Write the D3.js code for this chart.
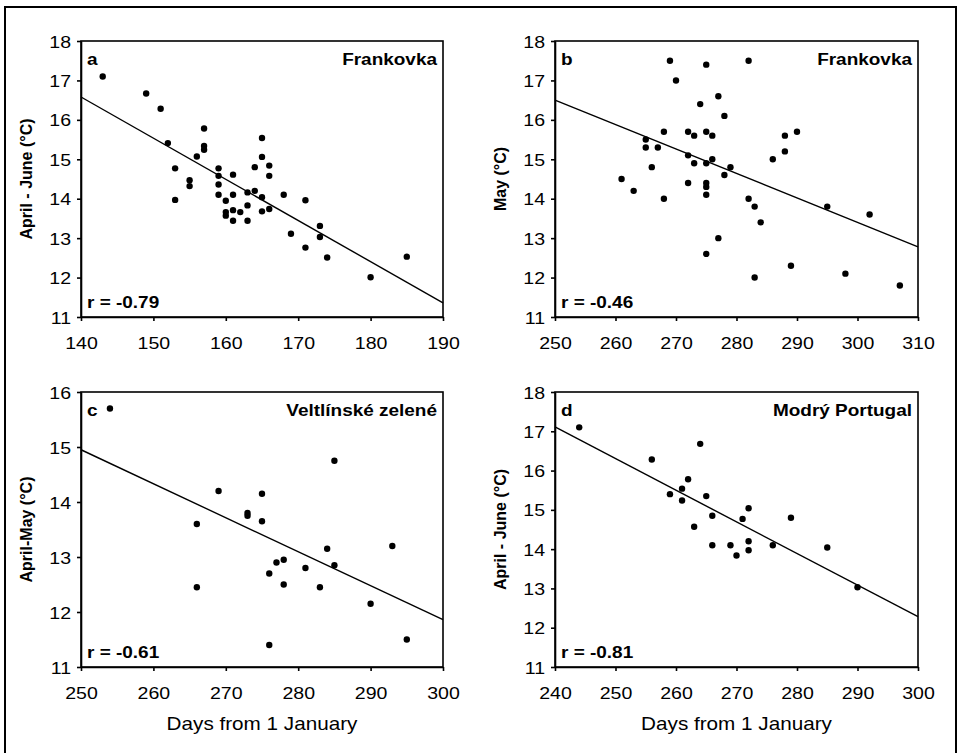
<!DOCTYPE html>
<html>
<head>
<meta charset="utf-8">
<script src="https://cdn.jsdelivr.net/npm/d3@7"></script>
<style>
  body { margin: 0; background: #fff; }
  svg { display: block; font-family: Arial, 'Liberation Sans', sans-serif; }
  .axis path, .axis line { stroke: #000; stroke-width: 1.6; }
  .axis text { fill: #000; }
</style>
</head>
<body>
<div id="chart"></div>
<script>
// panel a: Frankovka, April - June
const daysA = [143, 149, 151, 152, 153, 153, 155, 155, 156, 157, 157, 157, 159, 159, 159, 159,
  160, 160, 160, 161, 161, 161, 161, 162, 163, 163, 163, 164, 164, 165, 165, 165, 165,
  166, 166, 166, 168, 169, 171, 171, 173, 173, 174, 180, 185]
const tempA = [17.1, 16.67, 16.28, 15.41, 14.77, 13.97, 14.47, 14.32, 15.07, 15.78, 15.34, 15.24,
  14.77, 14.58, 14.36, 14.1, 13.95, 13.66, 13.57, 14.61, 14.1, 13.71, 13.44, 13.66, 14.16, 13.83,
  13.44, 14.8, 14.2, 15.54, 15.06, 14.04, 13.68, 14.84, 14.58, 13.74, 14.1, 13.11, 13.96, 12.76,
  13.31, 13.03, 12.51, 12.01, 12.53]
const fitA = [[140, 16.58], [190, 11.36]]
const xTicksA = [140, 150, 160, 170, 180, 190]
const yTicksA = [11, 12, 13, 14, 15, 16, 17, 18]

// panel b: Frankovka, May
const daysB = [261, 263, 265, 265, 266, 267, 268, 268, 269, 270, 272, 272, 272, 273, 273, 274,
  275, 275, 275, 275, 275, 275, 275, 276, 276, 277, 277, 278, 278, 279, 282, 282, 283, 283,
  284, 286, 288, 288, 289, 290, 295, 298, 302, 307]
const tempB = [14.5, 14.2, 15.5, 15.3, 14.8, 15.3, 15.7, 14.0, 17.5, 17.0, 15.7, 15.1, 14.4, 15.6,
  14.9, 16.4, 17.4, 15.7, 14.9, 14.4, 14.3, 14.1, 12.6, 15.6, 15.0, 16.6, 13.0, 16.1, 14.6, 14.8,
  17.5, 14.0, 13.8, 12.0, 13.4, 15.0, 15.6, 15.2, 12.3, 15.7, 13.8, 12.1, 13.6, 11.8]
const fitB = [[250, 16.5], [310, 12.78]]
const xTicksB = [250, 260, 270, 280, 290, 300, 310]
const yTicksB = [11, 12, 13, 14, 15, 16, 17, 18]

// panel c: Veltlínské zelené, April-May
const daysC = [254, 266, 266, 269, 273, 273, 275, 275, 276, 276, 277, 278, 278, 281, 283, 284,
  285, 285, 290, 293, 295]
const tempC = [15.7, 13.6, 12.45, 14.2, 13.8, 13.75, 14.15, 13.65, 12.7, 11.4, 12.9, 12.95, 12.5,
  12.8, 12.45, 13.15, 14.75, 12.85, 12.15, 13.2, 11.5]
const fitC = [[250, 14.95], [300, 11.86]]
const xTicksC = [250, 260, 270, 280, 290, 300]
const yTicksC = [11, 12, 13, 14, 15, 16]

// panel d: Modrý Portugal, April - June
const daysD = [244, 256, 259, 261, 261, 262, 263, 264, 265, 266, 266, 269, 270, 271, 272, 272,
  272, 276, 279, 285, 290]
const tempD = [17.1, 16.28, 15.4, 15.54, 15.24, 15.78, 14.57, 16.68, 15.35, 14.85, 14.1, 14.1,
  13.84, 14.77, 15.04, 14.2, 13.97, 14.1, 14.8, 14.04, 13.03]
const fitD = [[240, 17.11], [300, 12.28]]
const xTicksD = [240, 250, 260, 270, 280, 290, 300]
const yTicksD = [11, 12, 13, 14, 15, 16, 17, 18]

const panels = [
  { id: 'a', name: 'Frankovka', r: 'r = -0.79', yTitle: 'April - June (°C)', xTitle: null,
    days: daysA, temp: tempA, fit: fitA, xTicks: xTicksA, yTicks: yTicksA,
    box: { left: 81, right: 443, top: 41, bottom: 317 } },
  { id: 'b', name: 'Frankovka', r: 'r = -0.46', yTitle: 'May (°C)', xTitle: null,
    days: daysB, temp: tempB, fit: fitB, xTicks: xTicksB, yTicks: yTicksB,
    box: { left: 555, right: 918, top: 41, bottom: 317 } },
  { id: 'c', name: 'Veltlínské zelené', r: 'r = -0.61', yTitle: 'April-May (°C)', xTitle: 'Days from 1 January',
    days: daysC, temp: tempC, fit: fitC, xTicks: xTicksC, yTicks: yTicksC,
    box: { left: 81, right: 443, top: 392, bottom: 667 } },
  { id: 'd', name: 'Modrý Portugal', r: 'r = -0.81', yTitle: 'April - June (°C)', xTitle: 'Days from 1 January',
    days: daysD, temp: tempD, fit: fitD, xTicks: xTicksD, yTicks: yTicksD,
    box: { left: 555, right: 918, top: 392, bottom: 667 } }
]

const width = 961
const height = 753
const sx = 1.15 // the scanned figure is a little wider than tall

const svg = d3.select('#chart')
  .append('svg')
  .attr('width', width)
  .attr('height', height)

svg.append('rect')
  .attr('x', 5).attr('y', 7)
  .attr('width', 951).attr('height', 800)
  .attr('fill', 'none')
  .attr('stroke', '#000')
  .attr('stroke-width', 2)

panels.forEach(p => {
  const b = p.box
  const x = d3.scaleLinear().domain(d3.extent(p.xTicks)).range([b.left, b.right])
  const y = d3.scaleLinear().domain(d3.extent(p.yTicks)).range([b.bottom, b.top])
  const g = svg.append('g').classed('panel', true)

  const xAxis = g.append('g')
    .classed('axis', true)
    .attr('transform', `translate(0,${b.bottom})`)
    .call(d3.axisBottom(x).tickValues(p.xTicks).tickSize(4).tickSizeOuter(0))
  xAxis.selectAll('.tick text')
    .attr('y', 32.5).attr('dy', 0)
    .attr('transform', `scale(${sx},1)`)
    .style('font-size', '17px')

  const yAxis = g.append('g')
    .classed('axis', true)
    .attr('transform', `translate(${b.left},0)`)
    .call(d3.axisLeft(y).tickValues(p.yTicks).tickFormat(d3.format('d')).tickSize(4).tickSizeOuter(0))
  yAxis.selectAll('.tick text')
    .attr('x', -10 / sx)
    .attr('dy', '0.36em')
    .attr('transform', `scale(${sx},1)`)
    .style('font-size', '17px')

  // frame
  g.append('rect')
    .attr('x', b.left).attr('y', b.top)
    .attr('width', b.right - b.left).attr('height', b.bottom - b.top)
    .attr('fill', 'none')
    .attr('stroke', '#000')
    .attr('stroke-width', 1.6)

  // fitted line
  g.append('path')
    .datum(p.fit)
    .attr('d', d3.line().x(d => x(d[0])).y(d => y(d[1])))
    .attr('fill', 'none')
    .attr('stroke', '#000')
    .attr('stroke-width', 1.4)

  g.selectAll('circle')
    .data(p.days.map((d, i) => [d, p.temp[i]]))
    .enter()
    .append('circle')
    .attr('cx', d => x(d[0]))
    .attr('cy', d => y(d[1]))
    .attr('r', 3.2)
    .attr('fill', '#000')

  const label = (tx, ty, txt, anchor, size, weight) =>
    g.append('text')
      .attr('transform', `translate(${tx},${ty}) scale(${sx},1)`)
      .attr('text-anchor', anchor)
      .style('font-size', size)
      .style('font-weight', weight)
      .attr('fill', '#000')
      .text(txt)

  label(b.left + 6, b.top + 24, p.id, 'start', '16.5px', 'bold')
  label(b.right - 6, b.top + 24, p.name, 'end', '16.5px', 'bold')
  label(b.left + 6, b.bottom - 9, p.r, 'start', '16.5px', 'bold')

  if (p.xTitle) {
    label((b.left + b.right) / 2, b.bottom + 63, p.xTitle, 'middle', '18px', 'normal')
  }

  g.append('text')
    .attr('transform', `translate(${b.left - 49},${(b.top + b.bottom) / 2}) rotate(-90)`)
    .attr('text-anchor', 'middle')
    .style('font-size', '16px')
    .style('font-weight', 'bold')
    .attr('fill', '#000')
    .text(p.yTitle)
})
</script>
</body>
</html>
